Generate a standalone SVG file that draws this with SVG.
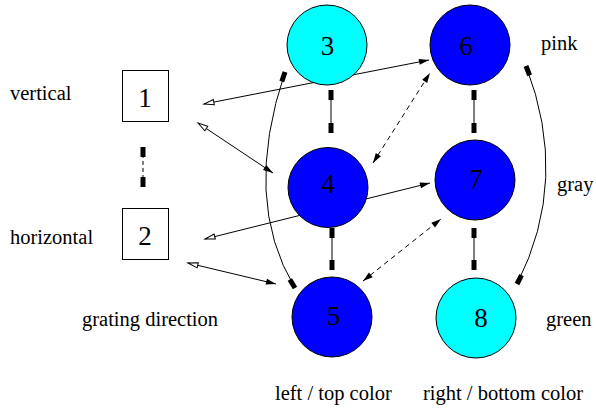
<svg xmlns="http://www.w3.org/2000/svg" width="596" height="409" viewBox="0 0 596 409">
<style>
text{font-family:"Liberation Serif","Times New Roman",serif;fill:#000}
.lbl{font-size:20.5px}
.num{font-size:27px;text-anchor:middle}
.cy{fill:#00FFFF;stroke:#000;stroke-width:1}
.bl{fill:#0000FF;stroke:#000;stroke-width:1}
.bx{fill:#fff;stroke:#000;stroke-width:1}
.e{fill:none;stroke:#000;stroke-width:1}
.d{stroke-dasharray:5 4}
</style>
<defs>
<marker id="box" markerUnits="userSpaceOnUse" markerWidth="12" markerHeight="12" viewBox="-11 -6 12 12" refX="0" refY="0" orient="auto-start-reverse" overflow="visible">
<path d="M-10,-2.5 L0,-2.5 L0,2.5 L-10,2.5 Z" fill="#000"/>
</marker>
<marker id="fa" markerUnits="userSpaceOnUse" markerWidth="14" markerHeight="10" viewBox="-12 -5 14 10" refX="0" refY="0" orient="auto-start-reverse" overflow="visible">
<path d="M0,0 L-10,-3 L-10,3 Z" fill="#000"/>
</marker>
<marker id="oa" markerUnits="userSpaceOnUse" markerWidth="14" markerHeight="10" viewBox="-12 -5 14 10" refX="0" refY="0" orient="auto-start-reverse" overflow="visible">
<path d="M0,0 L-10,-2.6 L-10,2.6 Z" fill="#fff" stroke="#000" stroke-width="1"/>
</marker>
</defs>
<g id="connectors">
<path class="e" d="M143,147 L143,187" stroke="#555" stroke-dasharray="4 3" marker-start="url(#box)" marker-end="url(#box)"/>
<path class="e" d="M331,90 L331,133" marker-start="url(#box)" marker-end="url(#box)"/>
<path class="e" d="M332,228 L332,270" marker-start="url(#box)" marker-end="url(#box)"/>
<path class="e" d="M474,90 L474,133" marker-start="url(#box)" marker-end="url(#box)"/>
<path class="e" d="M474,228 L474,270" marker-start="url(#box)" marker-end="url(#box)"/>
<path class="e" d="M285,72 Q242,200 295,288" marker-start="url(#box)" marker-end="url(#box)"/>
<path class="e" d="M526,66 Q570,180 517,284" marker-start="url(#box)" marker-end="url(#box)"/>
<path class="e" d="M204,104 L429,60" marker-start="url(#oa)" marker-end="url(#fa)"/>
<path class="e" d="M198,123 L273,173" marker-start="url(#oa)" marker-end="url(#fa)"/>
<path class="e" d="M205,239 L430,183" marker-start="url(#oa)" marker-end="url(#fa)"/>
<path class="e" d="M188,263 L276,284" marker-start="url(#oa)" marker-end="url(#fa)"/>
<path class="e d" d="M373,163 L430,73" marker-start="url(#fa)" marker-end="url(#fa)"/>
<path class="e d" d="M363,281 L441,219" marker-start="url(#fa)" marker-end="url(#fa)"/>
</g>
<g id="n1"><rect class="bx" x="122.5" y="70.5" width="46" height="51"/><text class="num" x="145" y="107">1</text></g>
<g id="n2"><rect class="bx" x="122.5" y="208.5" width="46" height="51"/><text class="num" x="145" y="245">2</text></g>
<g id="n3"><circle class="cy" cx="327" cy="45" r="40"/><text class="num" x="327.5" y="55">3</text></g>
<g id="n6"><circle class="bl" cx="470" cy="45" r="40"/><text class="num" x="466" y="55">6</text></g>
<g id="n4"><circle class="bl" cx="328" cy="187.5" r="40"/><text class="num" x="328" y="193">4</text></g>
<g id="n7"><circle class="bl" cx="475" cy="180" r="40"/><text class="num" x="476" y="188">7</text></g>
<g id="n5"><circle class="bl" cx="332" cy="317" r="40"/><text class="num" x="333.5" y="325">5</text></g>
<g id="n8"><circle class="cy" cx="476" cy="318" r="40"/><text class="num" x="481" y="327">8</text></g>
<g id="labels">
<text class="lbl" x="10" y="100">vertical</text>
<text class="lbl" x="10" y="244">horizontal</text>
<text class="lbl" x="82" y="326">grating direction</text>
<text class="lbl" x="541" y="50">pink</text>
<text class="lbl" x="557" y="191">gray</text>
<text class="lbl" x="546" y="326">green</text>
<text class="lbl" x="275" y="400">left / top color</text>
<text class="lbl" x="423" y="400">right / bottom color</text>
</g>
</svg>
